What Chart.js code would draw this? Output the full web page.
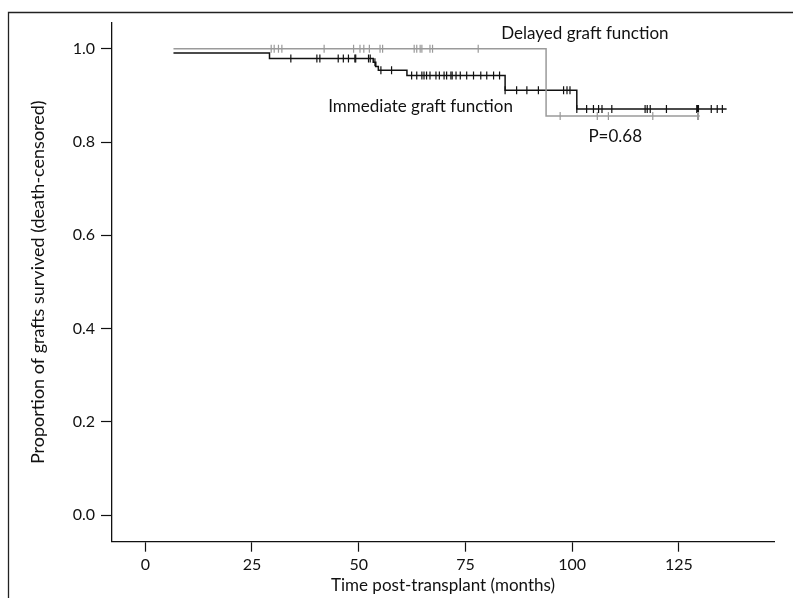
<!DOCTYPE html>
<html>
<head>
<meta charset="utf-8">
<title>Graft survival</title>
<script src="https://cdn.jsdelivr.net/npm/chart.js@4.4.1/dist/chart.umd.min.js"></script>
<style>
  body { margin: 0; background: #fff; }
  canvas { display: block; }
</style>
</head>
<body>
<canvas id="kmChart" width="793" height="598"></canvas>
<script>
// Kaplan-Meier steps (months, proportion surviving)
const immediateTimes = [6.6, 29.1, 53.4, 54.0, 54.6, 61.3, 84.3, 101.1, 136.2];
const immediateSurv = [0.991, 0.979, 0.971, 0.962, 0.954, 0.943, 0.911, 0.871, 0.871];
const delayedTimes = [6.6, 93.9, 129.9];
const delayedSurv = [1.0, 0.856, 0.856];

// censored observations (tick marks on the curves)
const immediateCensored = [34.1, 40.2, 40.9, 45.2, 46.4, 47.6, 49.1, 49.3, 52.3, 52.7, 53.8, 55.2, 57.7,
  62.4, 63.6, 64.8, 65.3, 65.9, 66.7, 68.1, 68.9, 70.0, 70.6, 71.6, 71.9, 72.8, 73.8, 75.3, 76.9,
  78.6, 80.0, 81.6, 83.0, 84.3, 87.0, 89.4, 92.1, 98.0, 98.8, 99.5, 101.1, 103.4, 105.0, 106.2,
  107.0, 109.3, 117.1, 117.6, 118.3, 122.1, 129.2, 129.4, 129.6, 132.6, 134.0, 135.2];
const delayedCensored = [29.5, 30.2, 31.2, 32.0, 41.9, 48.8, 50.3, 51.2, 52.5, 55.0, 55.6, 63.0,
  63.6, 64.4, 64.8, 66.7, 67.3, 78.0, 97.2, 105.9, 108.5, 118.9, 129.4, 129.6];

const xTicks = [0, 25, 50, 75, 100, 125];
const yTicks = [0.0, 0.2, 0.4, 0.6, 0.8, 1.0];

const notes = [
  { text: "Delayed graft function", x: 103.0, y: 1.032 },
  { text: "Immediate graft function", x: 64.5, y: 0.876 },
  { text: "P=0.68", x: 110.1, y: 0.811 }
];

const FONT = "Lato, 'Open Sans', sans-serif";
const BLACK = "#111111";
const GREY = "#9a9a9a";

function curve(times, surv) {
  return times.map((t, i) => ({ x: t, y: surv[i] }));
}

// value of the step function at time t
function survAt(times, surv, t) {
  let s = surv[0];
  for (let i = 0; i < times.length; i++) {
    if (t >= times[i]) s = surv[i];
  }
  return s;
}

function marks(censored, times, surv) {
  return censored.map(t => ({ x: t, y: survAt(times, surv, t) }));
}

const frame = {
  id: "frame",
  beforeDraw(chart) {
    const ctx = chart.ctx;
    ctx.save();
    ctx.strokeStyle = "#222";
    ctx.lineWidth = 1.3;
    ctx.beginPath();
    ctx.moveTo(8.5, 598);
    ctx.lineTo(8.5, 12.5);
    ctx.lineTo(793, 12.5);
    ctx.stroke();
    ctx.restore();
  }
};

const noteText = {
  id: "noteText",
  afterDraw(chart) {
    const ctx = chart.ctx;
    const xs = chart.scales.x;
    const ys = chart.scales.y;
    ctx.save();
    ctx.fillStyle = BLACK;
    ctx.font = "17px " + FONT;
    ctx.textAlign = "center";
    ctx.textBaseline = "middle";
    notes.forEach(n => {
      ctx.fillText(n.text, xs.getPixelForValue(n.x), ys.getPixelForValue(n.y));
    });
    ctx.restore();
  }
};

const ctx = document.getElementById("kmChart").getContext("2d");
const kmChart = new Chart(ctx, {
  type: "line",
  data: {
    datasets: [
      {
        label: "Delayed graft function",
        data: curve(delayedTimes, delayedSurv),
        borderColor: GREY,
        borderWidth: 1.5,
        stepped: true,
        pointRadius: 0,
        fill: false
      },
      {
        label: "Immediate graft function",
        data: curve(immediateTimes, immediateSurv),
        borderColor: BLACK,
        borderWidth: 1.5,
        stepped: true,
        pointRadius: 0,
        fill: false
      },
      {
        label: "Delayed censored",
        data: marks(delayedCensored, delayedTimes, delayedSurv),
        showLine: false,
        pointStyle: "line",
        rotation: 90,
        pointRadius: 4,
        borderColor: GREY,
        borderWidth: 1.2
      },
      {
        label: "Immediate censored",
        data: marks(immediateCensored, immediateTimes, immediateSurv),
        showLine: false,
        pointStyle: "line",
        rotation: 90,
        pointRadius: 4,
        borderColor: BLACK,
        borderWidth: 1.2
      }
    ]
  },
  options: {
    responsive: false,
    animation: false,
    layout: { padding: { top: 22.7, right: 19, left: 0, bottom: 0 } },
    plugins: {
      legend: { display: false },
      tooltip: { enabled: false }
    },
    scales: {
      x: {
        type: "linear",
        min: -7.8,
        max: 147.3,
        afterFit(scale) { scale.height = 56.3; },
        afterBuildTicks(scale) { scale.ticks = xTicks.map(v => ({ value: v })); },
        grid: { drawOnChartArea: false, tickLength: 10, tickColor: BLACK, tickWidth: 1.2 },
        border: { display: true, color: BLACK, width: 1.3 },
        ticks: { color: BLACK, font: { family: FONT, size: 16 }, padding: 4, maxRotation: 0 },
        title: {
          display: true,
          text: "Time post-transplant (months)",
          color: BLACK,
          font: { family: FONT, size: 17 },
          padding: { top: 0, bottom: 2 }
        }
      },
      y: {
        type: "linear",
        min: -0.057,
        max: 1.056,
        afterFit(scale) { scale.width = 112; },
        afterBuildTicks(scale) { scale.ticks = yTicks.map(v => ({ value: v })); },
        grid: { drawOnChartArea: false, tickLength: 11, tickColor: BLACK, tickWidth: 1.2 },
        border: { display: true, color: BLACK, width: 1.3 },
        ticks: {
          color: BLACK,
          font: { family: FONT, size: 16 },
          padding: 6,
          callback: v => v.toFixed(1)
        },
        title: {
          display: true,
          text: "Proportion of grafts survived (death-censored)",
          color: BLACK,
          font: { family: FONT, size: 18 },
          padding: { top: 27, bottom: 0 }
        }
      }
    }
  },
  plugins: [frame, noteText]
});
</script>
</body>
</html>
